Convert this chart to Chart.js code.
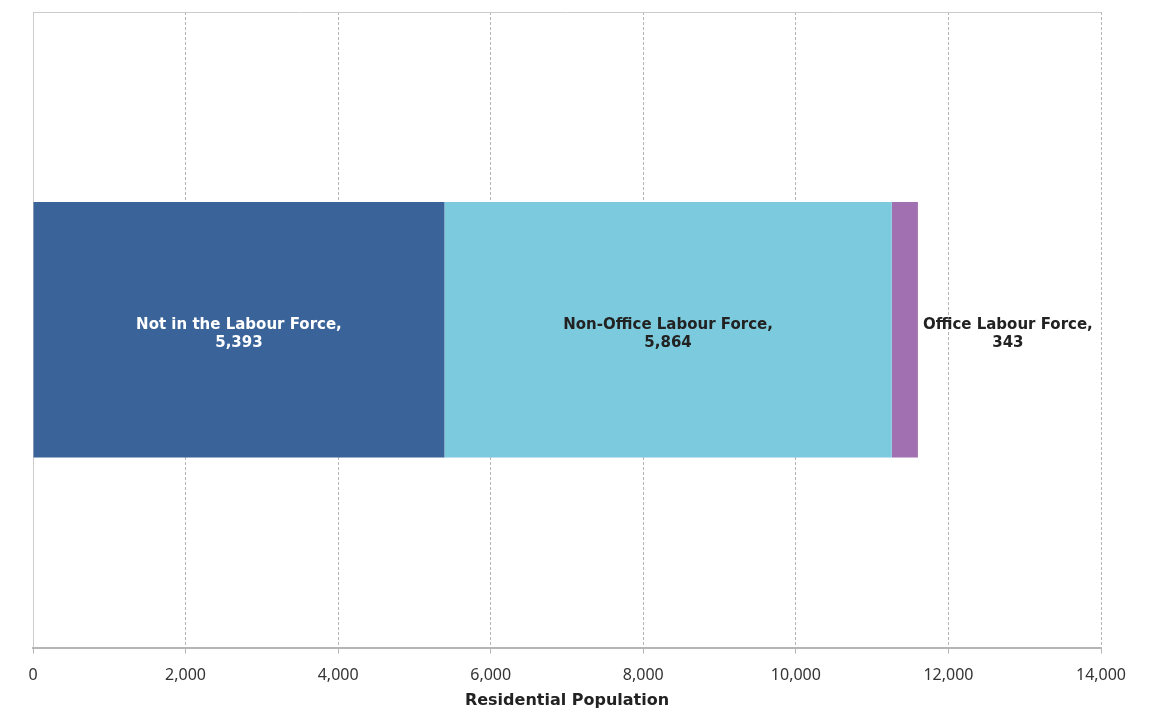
<!DOCTYPE html>
<html>
<head>
<meta charset="utf-8">
<script src="https://cdn.jsdelivr.net/npm/chart.js@4"></script>
<style>
  html, body { margin: 0; padding: 0; background: #fff; }
  #wrap { width: 1160px; height: 710px; }
</style>
</head>
<body>
<div id="wrap"><canvas id="popChart" width="1160" height="710"></canvas></div>
<script>
const categories = ['Residential Population'];
const seriesNames = ['Not in the Labour Force', 'Non-Office Labour Force', 'Office Labour Force'];
const notInLabour = [5393];
const nonOffice = [5864];
const office = [343];
const xTicks = [0, 2000, 4000, 6000, 8000, 10000, 12000, 14000];

const colors = ['#3a6399', '#7ccadd', '#a170b0'];
const labelColors = ['#ffffff', '#222222', '#222222'];

// draw the "Name,\nvalue" labels; last one goes outside the bar
const barLabels = {
  id: 'barLabels',
  afterDatasetsDraw(chart) {
    const ctx = chart.ctx;
    ctx.save();
    ctx.font = 'bold 15px "DejaVu Sans", Verdana, sans-serif';
    ctx.textAlign = 'center';
    ctx.textBaseline = 'middle';
    chart.data.datasets.forEach(function(ds, i) {
      const bar = chart.getDatasetMeta(i).data[0];
      const lines = [ds.label + ',', ds.data[0].toLocaleString('en-US')];
      let x = (bar.x + bar.base) / 2;
      if (i === chart.data.datasets.length - 1) {
        const w = Math.max.apply(null, lines.map(l => ctx.measureText(l).width));
        x = bar.x + 5 + w / 2;
      }
      ctx.fillStyle = labelColors[i];
      ctx.fillText(lines[0], x, bar.y - 5);
      ctx.fillText(lines[1], x, bar.y + 13);
    });
    ctx.restore();
  }
};

// solid frame on top and left like the original
const frame = {
  id: 'frame',
  beforeDatasetsDraw(chart) {
    const a = chart.chartArea, ctx = chart.ctx;
    ctx.save();
    ctx.strokeStyle = '#cccccc';
    ctx.lineWidth = 1;
    ctx.beginPath();
    ctx.moveTo(Math.round(a.left) + 0.5, a.bottom);
    ctx.lineTo(Math.round(a.left) + 0.5, Math.round(a.top) + 0.5);
    ctx.lineTo(a.right, Math.round(a.top) + 0.5);
    ctx.stroke();
    ctx.restore();
  }
};

const ctx = document.getElementById('popChart').getContext('2d');
const popChart = new Chart(ctx, {
  type: 'bar',
  data: {
    labels: categories,
    datasets: [
      { label: seriesNames[0], data: notInLabour, backgroundColor: colors[0] },
      { label: seriesNames[1], data: nonOffice, backgroundColor: colors[1] },
      { label: seriesNames[2], data: office, backgroundColor: colors[2] }
    ]
  },
  options: {
    indexAxis: 'y',
    responsive: false,
    animation: false,
    layout: { padding: { left: 33, right: 59, top: 12, bottom: 0 } },
    datasets: { bar: { barPercentage: 0.402, categoryPercentage: 1 } },
    scales: {
      x: {
        stacked: true,
        min: 0,
        max: 14000,
        afterBuildTicks: function(axis) { axis.ticks = xTicks.map(v => ({ value: v })); },
        ticks: {
          color: '#333',
          font: { family: '"Noto Sans", "Open Sans", sans-serif', size: 16 },
          padding: 12,
          callback: v => v.toLocaleString('en-US')
        },
        grid: { color: '#b5b5b5', tickLength: 6, tickColor: '#b5b5b5' },
        border: { display: true, color: '#b5b5b5', width: 2, dash: [3, 2] },
        title: {
          display: true,
          text: 'Residential Population',
          color: '#222',
          font: { family: '"DejaVu Sans", Verdana, sans-serif', size: 16, weight: 'bold' },
          padding: { top: -6, bottom: 0 }
        }
      },
      y: {
        stacked: true,
        display: false
      }
    },
    plugins: {
      legend: { display: false },
      tooltip: { enabled: false }
    }
  },
  plugins: [frame, barLabels]
});
</script>
</body>
</html>
